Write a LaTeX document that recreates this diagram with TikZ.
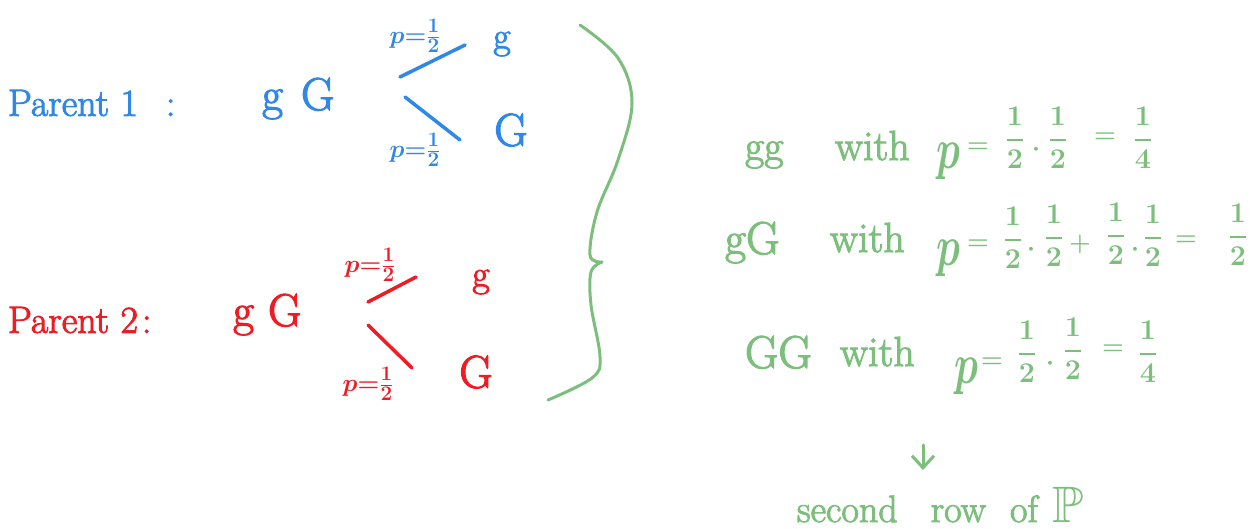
\documentclass[tikz,border=0pt]{standalone}
\usepackage{amsmath,amssymb,bm}
\usepackage{fontspec}
\setmainfont{Latin Modern Roman}[UprightFeatures={FakeBold=2.5}]
\usetikzlibrary{arrows.meta}
\definecolor{pblue}{RGB}{47,136,232}
\definecolor{pred}{RGB}{238,28,36}
\definecolor{pgreen}{RGB}{124,190,124}
\tikzset{
  txt/.style={inner sep=0pt, outer sep=0pt},
  big/.style={txt, font=\fontsize{38}{42}\selectfont},
  word/.style={txt, font=\fontsize{42}{46}\selectfont},
  huge/.style={txt, font=\fontsize{46}{50}\selectfont},
  small/.style={txt, font=\fontsize{24.88}{30}\selectfont\boldmath},
  eq/.style={txt, font=\fontsize{24.88}{30}\selectfont\boldmath},
  stroke/.style={line width=3.5pt, line cap=round},
}
\newcommand{\tallp}{\scalebox{1.6}[2.3]{$p$}}
\newcommand{\fr}[2]{\scalebox{1.15}{$\dfrac{#1}{#2}$}}
\begin{document}
\begin{tikzpicture}[x=1pt,y=-1pt]
\useasboundingbox (0,0) rectangle (1254,529);
% ---------- Parent 1 (blue)
\begin{scope}[pblue]
\node[big, anchor=west] (p1) at (8,103) {Parent 1\hspace{28pt}:};
\node[huge, anchor=base west] (p1g) at (262,110) {g\hspace{18pt}G};
\coordinate (b1a) at (400,77); \coordinate (b1b) at (465,45);
\coordinate (b2a) at (405,97); \coordinate (b2b) at (460,140);
\draw[stroke, pblue] (b1a) -- (b1b);
\draw[stroke, pblue] (b2a) -- (b2b);
\node[small] (l1) at (415,36) {$p{=}\tfrac12$};
\node[small] (l2) at (415,150) {$p{=}\tfrac12$};
\node[big] (e1) at (502,44) {g};
\node[huge] (e2) at (511,130) {G};
\end{scope}
% ---------- Parent 2 (red)
\begin{scope}[pred]
\node[big, anchor=west] (p2) at (8,320) {Parent 2\hspace{4pt}:};
\node[huge, anchor=base west] (p2g) at (233,326) {g\hspace{14pt}G};
\coordinate (r1a) at (368,302); \coordinate (r1b) at (416,277);
\coordinate (r2a) at (368,325); \coordinate (r2b) at (412,368);
\draw[stroke, pred] (r1a) -- (r1b);
\draw[stroke, pred] (r2a) -- (r2b);
\node[small] (l3) at (370,265) {$p{=}\tfrac12$};
\node[small] (l4) at (368,384) {$p{=}\tfrac12$};
\node[big] (e3) at (481,282) {g};
\node[huge] (e4) at (476,372) {G};
\end{scope}
% ---------- brace (green)
\draw[pgreen, line width=3pt, line cap=round]
  plot[smooth, tension=0.6] coordinates {(580,25) (618,58) (632,103) (618,160) (597,212) (590,255) (602,262)};
\draw[pgreen, line width=3pt, line cap=round]
  plot[smooth, tension=0.6] coordinates {(602,262) (591,272) (591,305) (600,357) (592,378) (548,400)};
% ---------- results (green)
\begin{scope}[pgreen]
% row 1
\node[word, anchor=base west] (g1) at (745,160) {gg};
\node[word, anchor=base west] (w1) at (835,160) {with};
\node[eq] (r1p) at (948,161) {\tallp};
\node[eq] (r1e1) at (978,148) {$=$};
\node[eq] (r1f1) at (1015,138) {\fr12};
\node[eq] (r1d1) at (1036,150) {$\cdot$};
\node[eq] (r1f2) at (1058,138) {\fr12};
\node[eq] (r1e2) at (1105,138) {$=$};
\node[eq] (r1f3) at (1143,138) {\fr14};
% row 2
\node[huge, anchor=base west] (g2) at (725,254) {gG};
\node[word, anchor=base west] (w2) at (830,252) {with};
\node[eq] (r2p) at (948,258) {\tallp};
\node[eq] (r2e1) at (978,245) {$=$};
\node[eq] (r2f1) at (1013,238) {\fr12};
\node[eq] (r2d1) at (1031,250) {$\cdot$};
\node[eq] (r2f2) at (1054,236) {\fr12};
\node[eq] (r2pl) at (1080,244) {$+$};
\node[eq] (r2f3) at (1116,234) {\fr12};
\node[eq] (r2d2) at (1135,250) {$\cdot$};
\node[eq] (r2f4) at (1153,236) {\fr12};
\node[eq] (r2e2) at (1186,241) {$=$};
\node[eq] (r2f5) at (1238,235) {\fr12};
% row 3
\node[huge, anchor=base west] (g3) at (745,368) {GG};
\node[word, anchor=base west] (w3) at (840,366) {with};
\node[eq] (r3p) at (966,376) {\tallp};
\node[eq] (r3e1) at (992,363) {$=$};
\node[eq] (r3f1) at (1027,352) {\fr12};
\node[eq] (r3d1) at (1050,364) {$\cdot$};
\node[eq] (r3f2) at (1073,349) {\fr12};
\node[eq] (r3e2) at (1113,350) {$=$};
\node[eq] (r3f3) at (1148,352) {\fr14};
% arrow and final text
\coordinate (a1) at (923,445);
\coordinate (a2) at (923,470);
\draw[line width=3pt, line cap=round, -{Straight Barb[length=12pt,width=22pt,line width=3pt]}] (a1) -- (a2);
\node[big, anchor=base west] (sr) at (797,522) {second\hspace{33pt}row\hspace{24pt}of\hspace{14pt}\scalebox{1.35}{$\bm{\mathbb{P}}$}};
\end{scope}
\end{tikzpicture}
\end{document}
